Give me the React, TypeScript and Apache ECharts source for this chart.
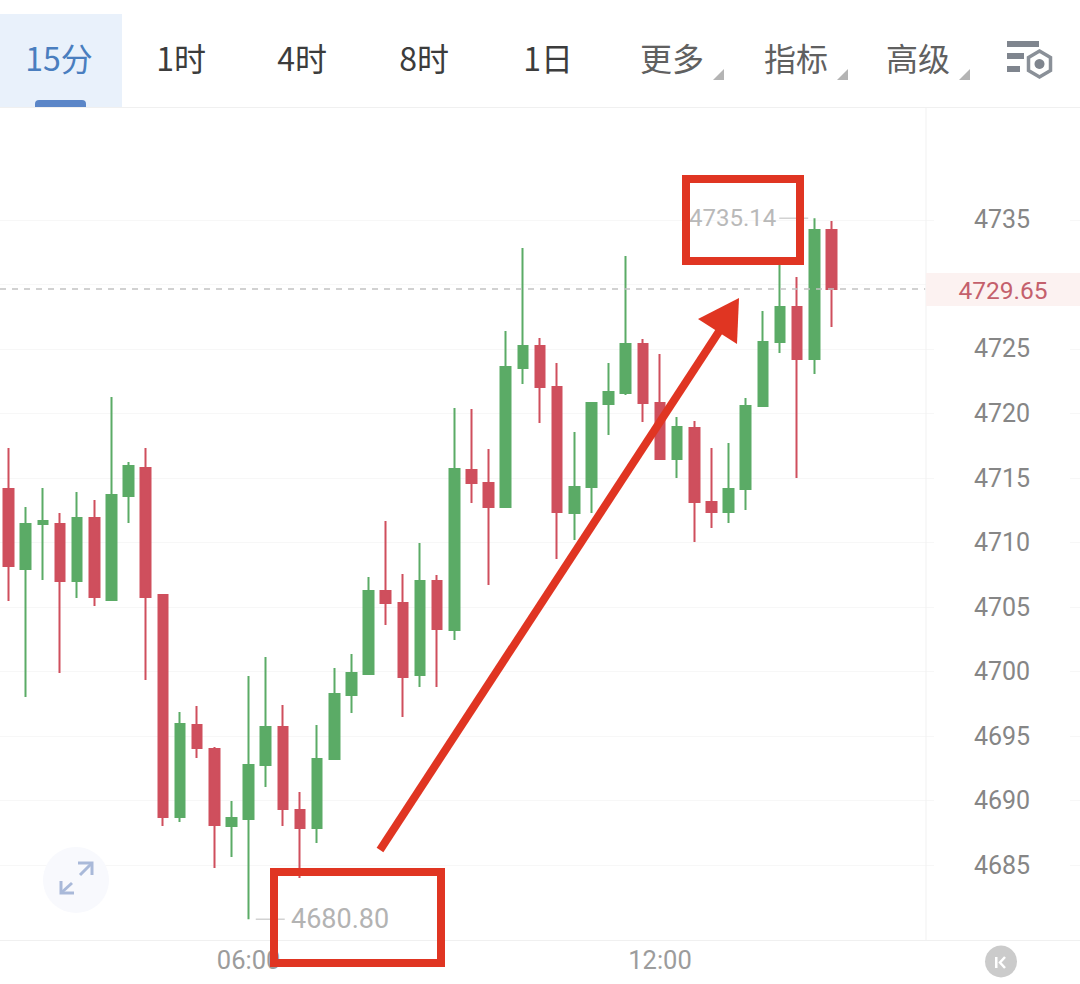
import React, { useEffect, useRef } from "react";
import * as echarts from "echarts";

const times = [
  "02:30","02:45","03:00","03:15","03:30","03:45","04:00","04:15","04:30","04:45",
  "05:00","05:15","05:30","05:45","06:00","06:15","06:30","06:45","07:00","07:15",
  "07:30","07:45","08:00","08:15","08:30","08:45","09:00","09:15","09:30","09:45",
  "10:00","10:15","10:30","10:45","11:00","11:15","11:30","11:45","12:00","12:15",
  "12:30","12:45","13:00","13:15","13:30","13:45","14:00","14:15","14:30","14:45",
  "15:00","15:15","15:30","15:45","16:00","16:15","16:30","16:45","17:00","17:15",
  "17:30","17:45","18:00",
];
const timeLabels = ["06:00", "12:00"];

const opens = [
  4714.15,4707.95,4711.43,4711.43,4707.02,4711.90,4705.54,4713.60,4715.78,4705.93,
  4688.72,4695.85,4693.99,4688.02,4688.57,4692.75,4695.70,4689.26,4687.87,4693.22,
  4698.18,4699.81,4706.24,4705.31,4699.73,4707.02,4703.22,4715.62,4714.61,4712.75,
  4723.53,4725.23,4722.05,4712.29,4714.30,4720.74,4721.59,4725.39,4720.81,4716.47,
  4718.88,4713.14,4712.36,4714.15,4720.58,4725.54,4728.26,4724.22,4734.22,
];
const closes = [
  4708.18,4711.43,4711.67,4707.02,4711.90,4705.78,4713.68,4715.93,4705.78,4688.72,
  4695.93,4694.07,4688.10,4688.64,4692.75,4695.70,4689.34,4687.87,4693.22,4698.26,
  4699.88,4706.24,4705.31,4699.57,4707.02,4703.29,4715.70,4714.61,4712.75,4723.60,
  4725.23,4722.05,4712.36,4714.30,4720.81,4721.67,4725.39,4720.81,4716.47,4718.95,
  4713.14,4712.36,4714.15,4720.58,4725.54,4728.26,4724.22,4734.22,4729.65,
];
const lows = [
  4705.47,4698.02,4707.09,4699.88,4705.70,4705.08,4705.54,4711.51,4699.34,4688.02,
  4688.33,4693.29,4684.77,4685.62,4680.80,4691.05,4688.02,4683.99,4686.71,4693.22,
  4696.78,4699.81,4703.60,4696.47,4698.80,4698.80,4702.44,4713.06,4706.71,4712.75,
  4722.29,4719.26,4708.72,4710.19,4712.29,4718.33,4721.43,4719.34,4716.47,4715.00,
  4710.04,4711.12,4711.51,4712.52,4720.58,4724.69,4715.00,4723.06,4726.71,
];
const highs = [
  4717.33,4712.75,4714.22,4712.29,4713.91,4713.29,4721.28,4716.24,4717.33,4705.93,
  4696.86,4697.33,4694.15,4689.96,4699.65,4701.12,4697.40,4690.66,4695.85,4700.27,
  4701.36,4707.33,4711.67,4707.56,4709.96,4707.48,4720.43,4720.35,4717.25,4726.40,
  4732.83,4725.85,4723.91,4718.57,4720.81,4723.91,4732.21,4725.78,4724.61,4719.73,
  4719.42,4717.33,4717.71,4721.20,4727.95,4731.74,4730.58,4735.14,4734.92,
];

const gridTicks = [4685,4690,4695,4700,4705,4710,4715,4720,4725,4730,4735];
const priceLabels = [4685,4690,4695,4700,4705,4710,4715,4720,4725,4735];
const lastPrice = 4729.65;
const highest = 4735.14;
const lowest = 4680.80;
const periodTabs = ["15分", "1时", "4时", "8时", "1日"];
const periodTabX = [59, 181, 302, 424, 548];
const menuTabs = ["更多", "指标", "高级"];
const menuTabX = [672, 796, 918];

const UP = "#5bab66";
const DOWN = "#cf4f5d";
const RED = "#e03522";
const CJK = '"Noto Sans CJK SC"';
const NUM = 'Roboto, "Noto Sans"';

function graphics(): any[] {
  const items: any[] = [];
  const text = (t: string, x: number, y: number, fill: string, size: number, family: string, z = 50, align = "center") =>
    items.push({
      type: "text", x, y, z,
      style: { text: t, fill, font: `${size}px ${family}`, textAlign: align, textVerticalAlign: "middle" },
    });
  // tab bar
  items.push({ type: "rect", z: 40, shape: { x: 0, y: 14, width: 122, height: 93 }, style: { fill: "#e9f1fb" } });
  items.push({ type: "rect", z: 41, shape: { x: 35, y: 100, width: 51, height: 7, r: [4, 4, 0, 0] }, style: { fill: "#5b86c8" } });
  items.push({ type: "line", z: 41, shape: { x1: 0, y1: 107.5, x2: 1080, y2: 107.5 }, style: { stroke: "#f0f0f0", lineWidth: 1 } });
  periodTabs.forEach((t, i) => text(t, periodTabX[i], 57, i === 0 ? "#4a7ebf" : "#3c3c3c", 32, CJK));
  menuTabs.forEach((t, i) => {
    text(t, menuTabX[i], 57, "#606060", 32, CJK);
    const rx = menuTabX[i] + 41;
    items.push({ type: "polygon", z: 50, shape: { points: [[rx, 80], [rx + 11, 80], [rx + 11, 69]] }, style: { fill: "#b4b4b4" } });
  });
  // settings icon
  [[1007, 41, 32, 6], [1007, 53, 17, 6], [1007, 66, 13, 6]].forEach(([x, y, w, h]) =>
    items.push({ type: "rect", z: 50, shape: { x, y, width: w, height: h }, style: { fill: "#7f858e" } }));
  items.push({ type: "polygon", z: 50, shape: { points: [[1039.5, 51], [1050.5, 57.5], [1050.5, 70.5], [1039.5, 77], [1028.5, 70.5], [1028.5, 57.5]] }, style: { fill: "none", stroke: "#8a9098", lineWidth: 3.5 } });
  items.push({ type: "circle", z: 50, shape: { cx: 1039.5, cy: 64, r: 5 }, style: { fill: "#7f858e" } });
  // panel divider
  items.push({ type: "line", z: 3, shape: { x1: 926, y1: 108, x2: 926, y2: 940 }, style: { stroke: "#f1f1f1", lineWidth: 1 } });
  // current price tag
  items.push({ type: "rect", z: 30, shape: { x: 926, y: 273, width: 154, height: 33 }, style: { fill: "#fcf2f1" } });
  text(lastPrice.toFixed(2), 1003, 290, "#c4606c", 24.5, NUM);
  // high / low notes
  text(highest.toFixed(2), 689, 218, "#b9b9b9", 24, NUM, 50, "left");
  text(lowest.toFixed(2), 291, 919, "#b3b3b3", 27, NUM, 50, "left");
  // expand button
  items.push({ type: "circle", z: 20, shape: { cx: 76, cy: 880, r: 33 }, style: { fill: "#f8f9fd" } });
  const blue = { fill: "none", stroke: "#a9b9d9", lineWidth: 3 };
  items.push({ type: "polyline", z: 21, shape: { points: [[80, 875], [92, 863]] }, style: blue });
  items.push({ type: "polyline", z: 21, shape: { points: [[78, 863], [92, 863], [92, 875]] }, style: blue });
  items.push({ type: "polyline", z: 21, shape: { points: [[72, 883], [61, 893]] }, style: blue });
  items.push({ type: "polyline", z: 21, shape: { points: [[61, 881], [61, 893], [74, 893]] }, style: blue });
  // K button
  items.push({ type: "circle", z: 20, shape: { cx: 1001, cy: 961.5, r: 16 }, style: { fill: "#cbcbcb" } });
  items.push({ type: "rect", z: 21, shape: { x: 995, y: 957, width: 2.5, height: 11 }, style: { fill: "#fff" } });
  items.push({ type: "polyline", z: 21, shape: { points: [[1005, 957], [1000, 962.5], [1005, 968]] }, style: { fill: "none", stroke: "#fff", lineWidth: 2.5 } });
  // callout boxes and arrow
  items.push({ type: "rect", z: 60, shape: { x: 686, y: 179, width: 114, height: 82 }, style: { fill: "none", stroke: RED, lineWidth: 8 } });
  items.push({ type: "rect", z: 60, shape: { x: 274, y: 872, width: 167, height: 91 }, style: { fill: "none", stroke: RED, lineWidth: 8 } });
  items.push({ type: "line", z: 60, shape: { x1: 380, y1: 850, x2: 720, y2: 330 }, style: { stroke: RED, lineWidth: 8 } });
  items.push({ type: "polygon", z: 60, shape: { points: [[739, 298], [698, 319], [737, 344]] }, style: { fill: RED } });
  return items;
}

export default function App() {
  const ref = useRef<HTMLDivElement>(null);
  useEffect(() => {
    const chart = echarts.init(ref.current!, undefined, { renderer: "svg" });
    chart.setOption({
      animation: false,
      backgroundColor: "#ffffff",
      grid: { left: 0, top: 108, width: 1081, height: 832, containLabel: false },
      xAxis: [
        {
          type: "category",
          data: times,
          boundaryGap: true,
          axisLine: { show: true, lineStyle: { color: "#f0f0f0", width: 1 } },
          axisTick: { show: false },
          splitLine: { show: false },
          axisLabel: {
            interval: (_: number, v: string) => timeLabels.includes(v),
            color: "#9c9c9c",
            fontSize: 25.5,
            fontFamily: NUM,
            margin: 7,
          },
        },
        { type: "value", min: 0, max: 1081, show: false, splitLine: { show: false } },
      ],
      yAxis: {
        type: "value",
        position: "right",
        min: 4679.19,
        max: 4743.68,
        axisLine: { show: false },
        axisTick: { show: false, customValues: gridTicks },
        splitLine: { show: true, lineStyle: { color: "#f7f7f7", width: 1 } },
        axisLabel: {
          inside: true,
          customValues: priceLabels,
          margin: 78,
          align: "center",
          color: "#868686",
          fontSize: 25,
          fontFamily: NUM,
          backgroundColor: "#ffffff",
          padding: [2, 40],
          formatter: (v: number) => String(v),
        },
      },
      series: [
        {
          type: "line",
          xAxisIndex: 1,
          z: 5,
          symbol: "none",
          silent: true,
          data: [[0, lastPrice], [926, lastPrice]],
          lineStyle: { color: "#c2c2c2", width: 1.5, type: [6, 6] },
        },
        {
          type: "candlestick",
          xAxisIndex: 0,
          z: 4,
          barWidth: 10,
          data: opens.map((o, i) => [o, closes[i], lows[i], highs[i]]),
          itemStyle: { color: UP, color0: DOWN, borderColor: UP, borderColor0: DOWN, borderWidth: 2 },
        },
        {
          type: "line",
          xAxisIndex: 1,
          symbol: "none",
          silent: true,
          data: [[256, lowest], [285, lowest]],
          lineStyle: { color: "#d2d2d2", width: 1.5 },
        },
        {
          type: "line",
          xAxisIndex: 1,
          symbol: "none",
          silent: true,
          data: [[780, highest], [809, highest]],
          lineStyle: { color: "#d2d2d2", width: 1.5 },
        },
      ],
      graphic: { elements: graphics() },
    });
    return () => chart.dispose();
  }, []);
  return <div ref={ref} style={{ position: "absolute", left: 0, top: 0, width: 1080, height: 984 }} />;
}
